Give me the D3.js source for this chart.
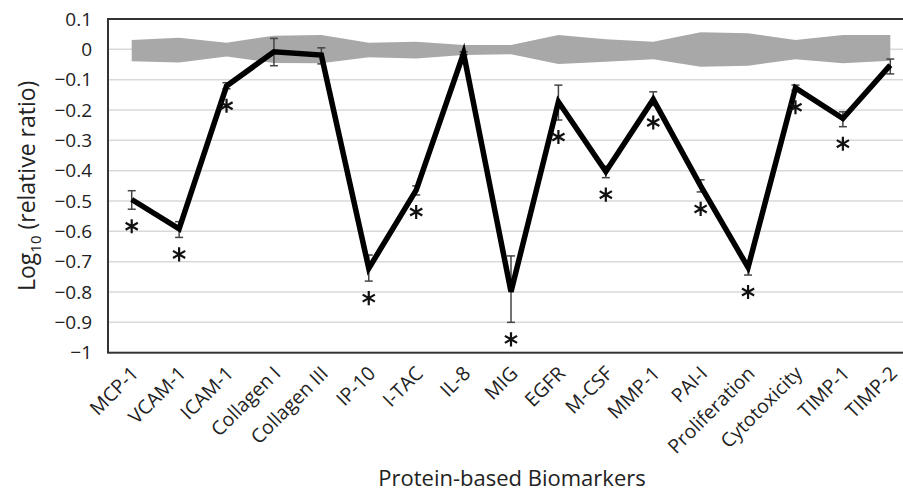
<!DOCTYPE html>
<html>
<head>
<meta charset="utf-8">
<script src="https://cdn.jsdelivr.net/npm/d3@7"></script>
<style>
  body { margin: 0; background: #fff; }
  svg { display: block; font-family: "Open Sans", "Noto Sans", sans-serif; }
</style>
</head>
<body>
<div class="wrapper"></div>
<script>
// biomarker categories
const markers = ["MCP-1", "VCAM-1", "ICAM-1", "Collagen I", "Collagen III", "IP-10", "I-TAC", "IL-8",
  "MIG", "EGFR", "M-CSF", "MMP-1", "PAI-I", "Proliferation", "Cytotoxicity", "TIMP-1", "TIMP-2"];

// log10 relative ratio (mean) and error bar ends
const ratio  = [-0.495, -0.592, -0.121, -0.008, -0.019, -0.722, -0.464, -0.013, -0.799, -0.173, -0.403, -0.165, -0.45, -0.719, -0.127, -0.228, -0.052];
const errTop = [-0.466, -0.568, -0.11, 0.036, 0.005, -0.678, -0.45, -0.008, -0.681, -0.118, -0.385, -0.14, -0.43, -0.70, -0.118, -0.206, -0.032];
const errBot = [-0.527, -0.62, -0.13, -0.054, -0.048, -0.764, -0.48, -0.018, -0.90, -0.233, -0.423, -0.185, -0.47, -0.744, -0.135, -0.255, -0.081];
const significant = [1, 1, 1, 0, 0, 1, 1, 0, 1, 1, 1, 1, 1, 1, 1, 1, 0];

// gray reference band (upper / lower)
const bandHi = [0.031, 0.038, 0.022, 0.045, 0.047, 0.022, 0.025, 0.014, 0.014, 0.047, 0.033, 0.025, 0.056, 0.053, 0.031, 0.047, 0.047];
const bandLo = [-0.039, -0.043, -0.024, -0.045, -0.046, -0.026, -0.03, -0.019, -0.016, -0.048, -0.041, -0.033, -0.057, -0.054, -0.033, -0.046, -0.038];

const yTicks = [0.1, 0, -0.1, -0.2, -0.3, -0.4, -0.5, -0.6, -0.7, -0.8, -0.9, -1];

var width = 903, height = 493;
var plotLeft = 108, plotTop = 19, plotBottom = 352.7, plotRight = 914;

var svg = d3.select(".wrapper").append("svg")
    .attr("width", width)
    .attr("height", height);

var x = d3.scaleBand().domain(markers).range([plotLeft, plotRight]);
var y = d3.scaleLinear().domain([-1, 0.1]).range([plotBottom, plotTop]);
var cx = d => x(d) + x.bandwidth() / 2;

// grid lines
svg.append("g").selectAll("line")
    .data(yTicks.filter(t => t > -1 && t < 0.1))
  .enter().append("line")
    .attr("x1", plotLeft).attr("x2", plotRight)
    .attr("y1", d => y(d)).attr("y2", d => y(d))
    .attr("stroke", "#d9d9d9")
    .attr("stroke-width", 1.5);

// gray band
var area = d3.area()
    .x((d, i) => cx(markers[i]))
    .y0((d, i) => y(bandLo[i]))
    .y1((d, i) => y(bandHi[i]));
svg.append("path")
    .datum(bandHi)
    .attr("d", area)
    .attr("fill", "#a8a8a8");

// plot frame
svg.append("rect")
    .attr("x", plotLeft).attr("y", plotTop)
    .attr("width", plotRight - plotLeft).attr("height", plotBottom - plotTop)
    .attr("fill", "none")
    .attr("stroke", "#333")
    .attr("stroke-width", 2);

// y axis labels
var yAxis = d3.axisLeft(y).tickValues(yTicks).tickSize(0).tickPadding(16)
    .tickFormat(d => d3.format("")(Math.round(d * 10) / 10));
svg.append("g")
    .attr("transform", `translate(${plotLeft},0)`)
    .call(yAxis)
    .call(g => g.select(".domain").remove())
    .selectAll("text")
    .attr("font-size", 19)
    .attr("font-family", "'Open Sans', sans-serif")
    .attr("fill", "#222");

// x axis labels
svg.append("g").selectAll("text")
    .data(markers)
  .enter().append("text")
    .attr("transform", d => `translate(${cx(d) + 8},${plotBottom + 22}) rotate(-45)`)
    .attr("text-anchor", "end")
    .attr("font-size", 19.5)
    .attr("fill", "#222")
    .text(d => d);

// error bars
var eb = svg.append("g").attr("stroke", "#444").attr("stroke-width", 1.5);
markers.forEach((m, i) => {
  eb.append("line").attr("x1", cx(m)).attr("x2", cx(m)).attr("y1", y(errTop[i])).attr("y2", y(errBot[i]));
  eb.append("line").attr("x1", cx(m) - 4).attr("x2", cx(m) + 4).attr("y1", y(errTop[i])).attr("y2", y(errTop[i]));
  eb.append("line").attr("x1", cx(m) - 4).attr("x2", cx(m) + 4).attr("y1", y(errBot[i])).attr("y2", y(errBot[i]));
});

// main line
var line = d3.line()
    .x((d, i) => cx(markers[i]))
    .y(d => y(d));
svg.append("path")
    .datum(ratio)
    .attr("d", line)
    .attr("fill", "none")
    .attr("stroke", "#000")
    .attr("stroke-width", 5.5)
    .attr("stroke-linejoin", "miter");

// asterisks for significance
var star = d3.symbol().type(d3.symbolAsterisk).size(140);
svg.append("g").selectAll("path")
    .data(markers.filter((m, i) => significant[i]))
  .enter().append("path")
    .attr("d", star)
    .attr("transform", d => {
      var i = markers.indexOf(d);
      return `translate(${cx(d)},${y(errBot[i]) + 17})`;
    })
    .attr("fill", "none")
    .attr("stroke", "#111")
    .attr("stroke-width", 2.2);

// axis titles
var yt = svg.append("text")
    .attr("transform", `translate(35,${(plotTop + plotBottom) / 2}) rotate(-90)`)
    .attr("text-anchor", "middle")
    .attr("font-size", 23)
    .attr("fill", "#222");
yt.append("tspan").text("Log");
yt.append("tspan").attr("font-size", 15).attr("dy", 6).text("10");
yt.append("tspan").attr("dy", -6).text(" (relative ratio)");

svg.append("text")
    .attr("x", 512).attr("y", 486)
    .attr("text-anchor", "middle")
    .attr("font-size", 22)
    .attr("fill", "#222")
    .text("Protein-based Biomarkers");
</script>
</body>
</html>
